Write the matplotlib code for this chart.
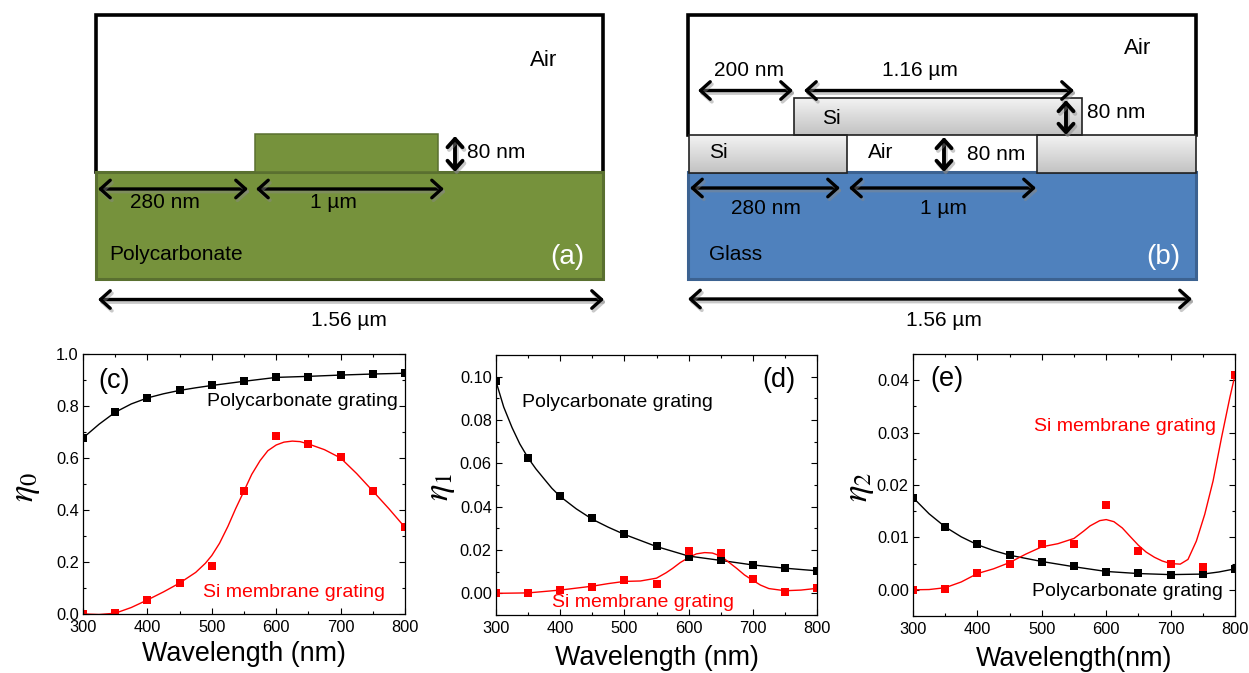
import numpy as np
import matplotlib

matplotlib.use("Agg")
import matplotlib.pyplot as plt
import matplotlib.patheffects as pe
from matplotlib.patches import FancyArrowPatch, Rectangle
from matplotlib.ticker import MultipleLocator, FormatStrFormatter

plt.rcParams["font.family"] = ["Liberation Sans", "DejaVu Sans"]
plt.rcParams["mathtext.fontset"] = "stix"

WAVELENGTH = [300, 350, 400, 450, 500, 550, 600, 650, 700, 750, 800]

# panel (c), zeroth order
c_poly = [0.677, 0.776, 0.831, 0.860, 0.879, 0.895, 0.912, 0.912, 0.919, 0.923, 0.926]
c_si = [0.0, 0.003, 0.054, 0.119, 0.183, 0.473, 0.685, 0.654, 0.604, 0.473, 0.333]
c_poly_fit_x = [300, 325, 350, 375, 400, 425, 450, 475, 500, 550, 600, 650, 700, 750, 800]
c_poly_fit = [0.677, 0.73, 0.776, 0.808, 0.831, 0.847, 0.860, 0.870, 0.879, 0.895, 0.910, 0.914, 0.919, 0.923, 0.926]
c_si_fit_x = [300, 325, 350, 375, 400, 425, 450, 475, 490, 500, 512, 525, 537, 550, 562, 575, 587, 600, 612, 625, 637, 650, 675, 700, 725, 750, 775, 800]
c_si_fit = [0.0, -0.002, 0.003, 0.025, 0.054, 0.085, 0.119, 0.16, 0.195, 0.225, 0.272, 0.337, 0.405, 0.473, 0.537, 0.59, 0.628, 0.65, 0.661, 0.665, 0.663, 0.654, 0.632, 0.60, 0.54, 0.473, 0.405, 0.333]

# panel (d), first order
d_poly = [0.0978, 0.0626, 0.0447, 0.0347, 0.0274, 0.0219, 0.0166, 0.0153, 0.0131, 0.0116, 0.0102]
d_si = [0.0, 0.0, 0.0015, 0.0028, 0.0063, 0.0043, 0.0197, 0.0188, 0.0065, 0.0008, 0.0023]
d_poly_fit_x = [300, 312, 325, 337, 350, 362, 375, 387, 400, 425, 450, 475, 500, 550, 600, 650, 700, 750, 800]
d_poly_fit = [0.0978, 0.0860, 0.0765, 0.0690, 0.0625, 0.0575, 0.0528, 0.0485, 0.0447, 0.0390, 0.0342, 0.0305, 0.0272, 0.0216, 0.0172, 0.0152, 0.0131, 0.0116, 0.0104]
d_si_fit_x = [300, 350, 400, 450, 475, 500, 525, 550, 565, 575, 587, 600, 612, 625, 637, 650, 662, 675, 687, 700, 712, 725, 750, 775, 800]
d_si_fit = [0.0, 0.0002, 0.0015, 0.0033, 0.0045, 0.0055, 0.0057, 0.0070, 0.0095, 0.0115, 0.0142, 0.0165, 0.0182, 0.0188, 0.0186, 0.0172, 0.0145, 0.0115, 0.0085, 0.0060, 0.0038, 0.0022, 0.0012, 0.0015, 0.0023]

# panel (e), second order
e_poly = [0.0176, 0.0120, 0.0087, 0.0067, 0.0054, 0.0045, 0.0034, 0.0032, 0.0029, 0.0031, 0.0040]
e_si = [0.0, 0.0001, 0.0032, 0.0050, 0.0088, 0.0087, 0.0161, 0.0075, 0.0050, 0.0043, 0.0410]
e_poly_fit_x = [300, 325, 350, 375, 400, 425, 450, 500, 550, 600, 650, 700, 750, 775, 800]
e_poly_fit = [0.0176, 0.0145, 0.0120, 0.0101, 0.0086, 0.0075, 0.0066, 0.0054, 0.0044, 0.0035, 0.0031, 0.0029, 0.0030, 0.0034, 0.0040]
e_si_fit_x = [300, 325, 350, 375, 400, 425, 450, 475, 500, 525, 550, 565, 575, 590, 600, 612, 625, 637, 650, 662, 675, 687, 700, 715, 727, 740, 753, 766, 779, 792, 800]
e_si_fit = [0.0, 0.00005, 0.0004, 0.0015, 0.0031, 0.0040, 0.0052, 0.0068, 0.0082, 0.0088, 0.0098, 0.0112, 0.0122, 0.0132, 0.0134, 0.0130, 0.0118, 0.0102, 0.0085, 0.0072, 0.0062, 0.0055, 0.0050, 0.0049, 0.0058, 0.0093, 0.0144, 0.0208, 0.0290, 0.0367, 0.0410]

W, H = 1249, 673
GREEN, GREEN_EDGE = "#76923c", "#5a7030"
BLUE, BLUE_EDGE = "#4f81bd", "#3c6291"

fig = plt.figure(figsize=(W / 100, H / 100), dpi=100)

# everything in the two schematics is placed in image pixels
sk = fig.add_axes([0, 0, 1, 1], zorder=3)
sk.patch.set_alpha(0)
sk.axis("off")


def arrow(x0, y0, x1, y1, head=14, lw=2.4):
    a = FancyArrowPatch(
        (x0, y0), (x1, y1), arrowstyle=f"<->,head_length={head * 0.5},head_width={head * 0.45}",
        lw=lw, color="black", shrinkA=0, shrinkB=0, mutation_scale=1, zorder=6,
        path_effects=[pe.SimpleLineShadow(offset=(1.2, -1.8), shadow_color="#888888", alpha=0.45, linewidth=lw + 0.3), pe.Normal()],
    )
    sk.add_patch(a)


def label(x, y, s, ha="center", size=15, color="black"):
    sk.text(x, y, s, ha=ha, va="center", fontsize=size, color=color, zorder=7)


def si_block(x0, x1, y0, y1):
    shade = np.linspace(0.95, 0.76, 64).reshape(-1, 1)
    sk.imshow(shade, extent=(x0, x1, y1, y0), cmap="gray", vmin=0, vmax=1, aspect="auto", zorder=4)
    sk.add_patch(Rectangle((x0, y0), x1 - x0, y1 - y0, fc="none", ec="#222222", lw=1.2, zorder=5))


# panel (a)
sk.plot([96, 96, 603, 603], [172, 15, 15, 172], color="black", lw=2.6, solid_joinstyle="miter")
sk.add_patch(Rectangle((96, 172), 507, 107, fc=GREEN, ec=GREEN_EDGE, lw=2.2, zorder=2))
sk.add_patch(Rectangle((255, 133.5), 183, 38.5, fc=GREEN, ec=GREEN_EDGE, lw=1.1, zorder=3))
arrow(455, 136, 455, 172, head=12, lw=2.8)
arrow(98, 189, 248, 189)
arrow(256, 189, 444, 189)
arrow(98, 299.5, 604, 299.5)
label(544, 60, "Air", size=16)
label(467, 152, "80 nm", ha="left")
label(165, 203, "280 nm")
label(333, 203, "1 µm")
label(109, 255, "Polycarbonate", ha="left")
label(567, 257, "(a)", size=20, color="white")
label(349, 320, "1.56 µm")

# panel (b)
sk.plot([688, 688, 1196, 1196], [135, 15, 15, 135], color="black", lw=2.6, solid_joinstyle="miter")
sk.add_patch(Rectangle((688, 172), 508, 107, fc=BLUE, ec=BLUE_EDGE, lw=2.2, zorder=2))
si_block(689, 847, 135, 173)
si_block(1037, 1196, 135, 173)
si_block(794, 1082, 98, 135)
arrow(698, 90.5, 793, 90.5)
arrow(804, 90.5, 1074, 90.5)
arrow(1066, 100, 1066, 135, head=12, lw=2.8)
arrow(944, 137, 944, 172, head=12, lw=2.8)
arrow(690, 188, 840, 188)
arrow(849, 188, 1036, 188)
arrow(688, 299, 1192, 299)
label(1138, 49, "Air", size=16)
label(749, 71, "200 nm")
label(920, 71, "1.16 µm")
label(1087, 112, "80 nm", ha="left")
label(831, 118, "Si")
label(718, 153, "Si")
label(881, 153, "Air")
label(996, 154, "80 nm")
label(766, 208, "280 nm")
label(943, 208, "1 µm")
label(709, 254, "Glass", ha="left")
label(1163, 257, "(b)", size=20, color="white")
label(944, 320, "1.56 µm")

sk.set_xlim(0, W)
sk.set_ylim(H, 0)


def panel(box, ylim, major, minor, fmt, poly, si, poly_fit, si_fit):
    left, top, right, bottom = box
    ax = fig.add_axes([left / W, 1 - bottom / H, (right - left) / W, (bottom - top) / H])
    ax.plot(poly_fit[0], poly_fit[1], color="black", lw=1.0)
    ax.plot(si_fit[0], si_fit[1], color="#ff0000", lw=1.0)
    ax.plot(WAVELENGTH, poly, ls="none", marker="s", ms=5.4, color="black", mew=0)
    ax.plot(WAVELENGTH, si, ls="none", marker="s", ms=5.4, color="#ff0000", mew=0)
    ax.set_xlim(300, 800)
    ax.set_ylim(*ylim)
    ax.xaxis.set_major_locator(MultipleLocator(100))
    ax.xaxis.set_minor_locator(MultipleLocator(50))
    ax.yaxis.set_major_locator(MultipleLocator(major))
    ax.yaxis.set_minor_locator(MultipleLocator(minor))
    ax.yaxis.set_major_formatter(FormatStrFormatter(fmt))
    ax.tick_params(which="major", direction="in", top=True, right=True, length=4.5, width=0.8, labelsize=11.8, pad=3)
    ax.tick_params(which="minor", direction="in", top=True, right=True, length=2.5, width=0.8)
    ax.tick_params(axis="x", which="major", pad=4)
    for s in ax.spines.values():
        s.set_linewidth(0.9)
    return ax


ax_c = panel((83, 354, 405, 614), (0, 1.0), 0.2, 0.1, "%.1f", c_poly, c_si,
             (c_poly_fit_x, c_poly_fit), (c_si_fit_x, c_si_fit))
ax_d = panel((496, 355, 817, 615), (-0.01, 0.11), 0.02, 0.01, "%.2f", d_poly, d_si,
             (d_poly_fit_x, d_poly_fit), (d_si_fit_x, d_si_fit))
ax_e = panel((913, 354, 1235, 616), (-0.005, 0.045), 0.01, 0.005, "%.2f", e_poly, e_si,
             (e_poly_fit_x, e_poly_fit), (e_si_fit_x, e_si_fit))

ANN = 14
PANEL = 19.5
ax_c.text(349, 0.895, "(c)", fontsize=PANEL, ha="center", va="center")
ax_c.text(493, 0.818, "Polycarbonate grating", fontsize=ANN, va="center")
ax_c.text(486, 0.083, "Si membrane grating", fontsize=ANN, va="center", color="#ff0000")
ax_d.text(740, 0.0983, "(d)", fontsize=PANEL, ha="center", va="center")
ax_d.text(340, 0.0883, "Polycarbonate grating", fontsize=ANN, va="center")
ax_d.text(388, -0.0042, "Si membrane grating", fontsize=ANN, va="center", color="#ff0000")
ax_e.text(353, 0.0402, "(e)", fontsize=PANEL, ha="center", va="center")
ax_e.text(488, 0.0311, "Si membrane grating", fontsize=ANN, va="center", color="#ff0000")
ax_e.text(485, -0.0004, "Polycarbonate grating", fontsize=ANN, va="center")

label(244, 654, "Wavelength (nm)", size=19.4)
label(657, 658, "Wavelength (nm)", size=19.4)
label(1074, 659, "Wavelength(nm)", size=19.4)
sk.text(25, 487, r"$\eta_0$", rotation=90, fontsize=25, ha="center", va="center")
sk.text(441, 487, r"$\eta_1$", rotation=90, fontsize=25, ha="center", va="center")
sk.text(860, 487, r"$\eta_2$", rotation=90, fontsize=25, ha="center", va="center")

fig.savefig("out.png", dpi=100)
